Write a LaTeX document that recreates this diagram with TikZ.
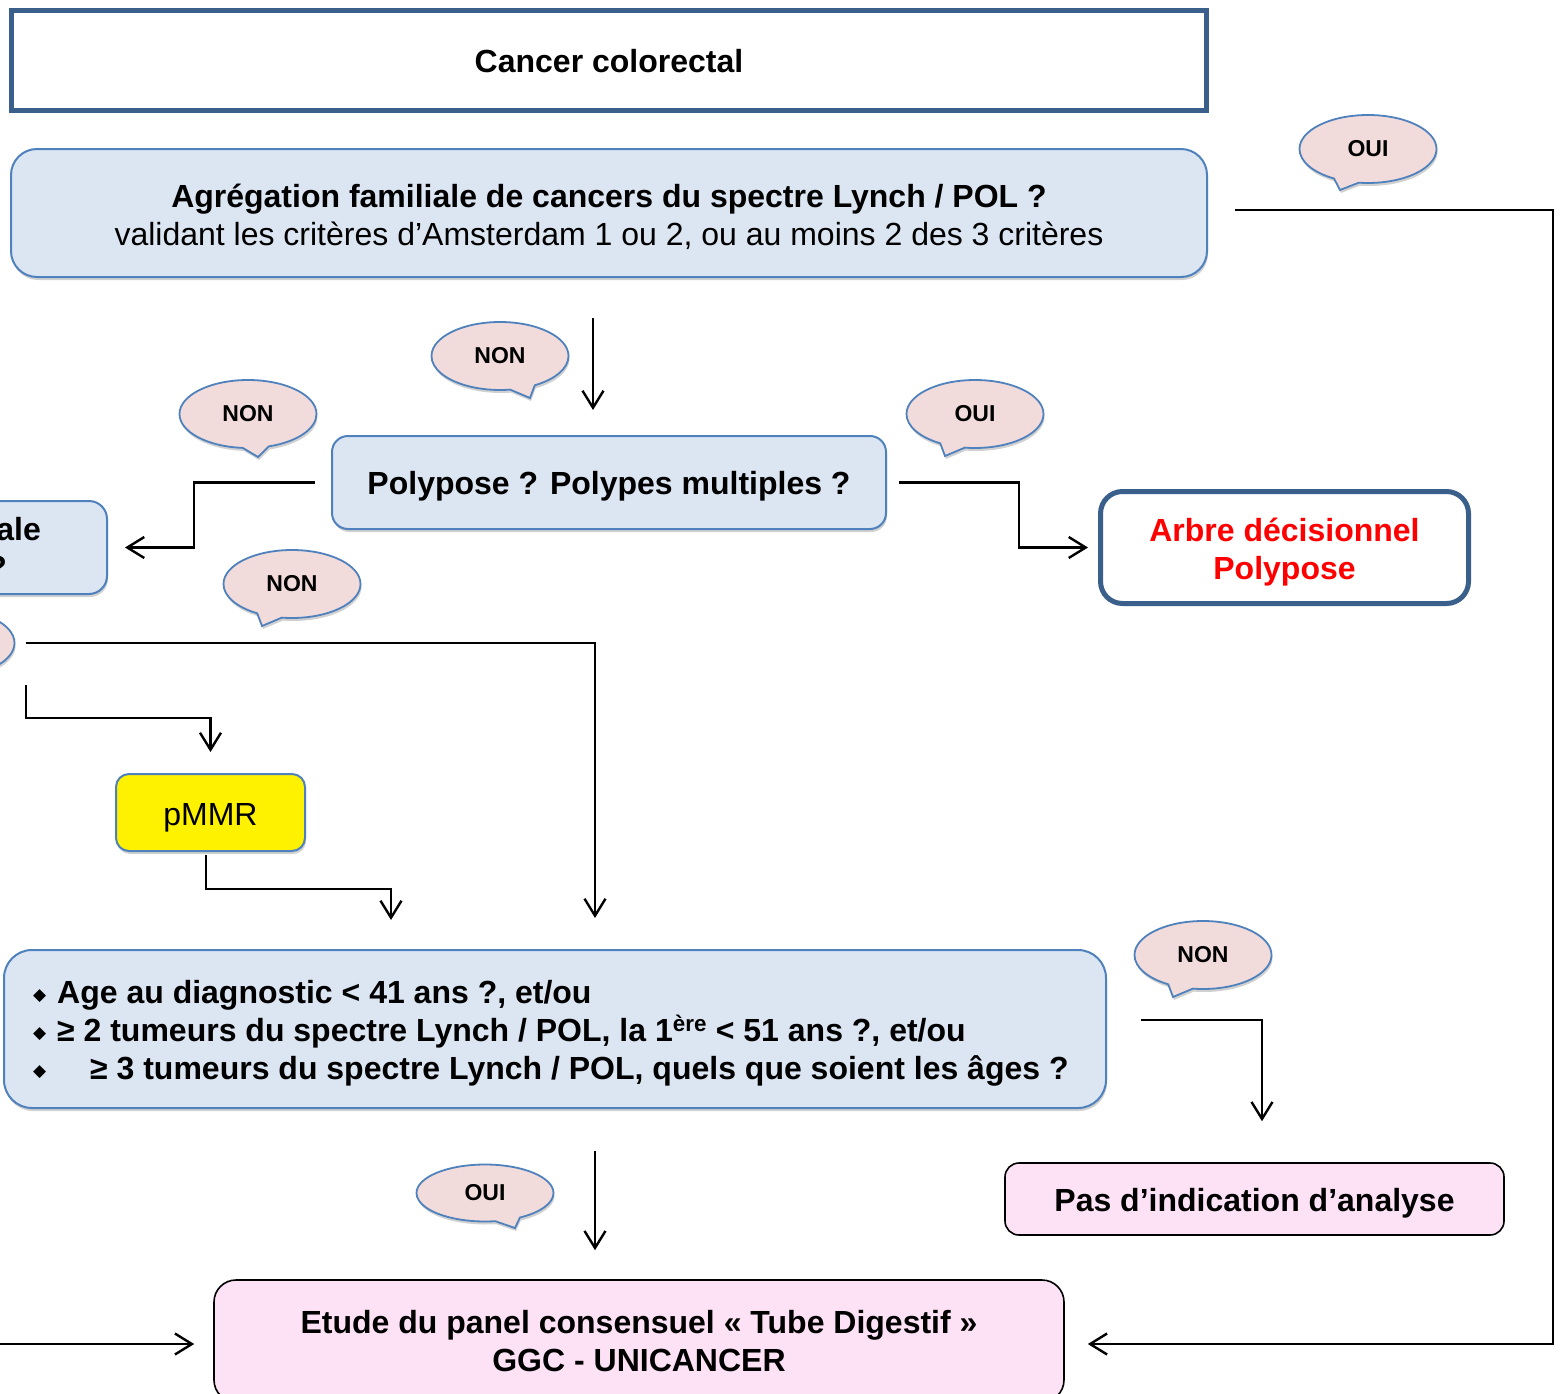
\documentclass[tikz,border=0pt]{standalone}
\usepackage{fontspec}
\setmainfont{Liberation Sans}
\newfontfamily\djv{DejaVu Sans}
\usetikzlibrary{arrows.meta,shapes.callouts,shapes.geometric,shadows}
\definecolor{qfill}{HTML}{DCE6F2}
\definecolor{qborder}{HTML}{4F81BD}
\definecolor{cfill}{HTML}{F2DCDB}
\definecolor{dkblue}{HTML}{3A5F8B}
\definecolor{pinkfill}{HTML}{FDE2F6}
\newcommand\fsbig{\fontsize{32}{38}\selectfont}
\newcommand\fscall{\fontsize{23}{27}\selectfont}
\newcommand\tstrut[1]{\rule{0pt}{#1pt}}
\newcommand\dbul{\makebox[24pt][l]{\raisebox{3pt}{\djv\fontsize{17}{17}\selectfont ◆}}}
\tikzset{
  shd/.style={drop shadow={shadow xshift=1pt,shadow yshift=-3pt,opacity=.18,fill=black}},
  qbox/.style={draw=qborder,fill=qfill,line width=2pt,inner sep=0pt,align=center,font=\fsbig,shd},
  dkbox/.style={draw=dkblue,fill=white,line width=5pt,inner sep=0pt,align=center,font=\fsbig\bfseries},
  pinkbox/.style={draw=black,fill=pinkfill,line width=1.6pt,inner sep=0pt,align=center,font=\fsbig\bfseries,rounded corners=14pt},
  bubble/.style={ellipse callout,draw=qborder,fill=cfill,line width=1.8pt,inner sep=0pt,
     minimum width=137pt,minimum height=68pt,font=\fscall\bfseries,callout pointer arc=22,shd},
  arr/.style={line width=2.4pt,-{Straight Barb[length=17pt,width=21pt]}},
  plain/.style={inner sep=0pt}
}
\begin{document}
\begin{tikzpicture}[x=1pt,y=-1pt]
\useasboundingbox (0,0) rectangle (1560,1394);

% boxes
\node[dkbox,rectangle,minimum width=1195pt,minimum height=100pt] (top) at (609,60.5) {\tstrut{25}Cancer colorectal};
\node[qbox,rounded corners=26pt,minimum width=1196pt,minimum height=128pt] (agr) at (609,213)
  {\tstrut{31}\textbf{Agrégation familiale de cancers du spectre Lynch / POL ?}\\validant les critères d’Amsterdam 1 ou 2, ou au moins 2 des 3 critères};
\node[qbox,rounded corners=16pt,minimum width=554pt,minimum height=93pt,font=\fsbig\bfseries] (poly) at (609,482.5)
  {\tstrut{31}Polypose ? Polypes multiples ?};
\node[dkbox,rounded corners=22pt,minimum width=368pt,minimum height=112pt,text=red] (arbre) at (1284.5,547.5)
  {\tstrut{32}Arbre décisionnel\\Polypose};
\node[qbox,rounded corners=18pt,minimum width=360pt,minimum height=93pt] (tum) at (-73,547.5) {};
\node[anchor=east,font=\fsbig\bfseries,plain] (tumA) at (41,529) {ale};
\node[anchor=east,font=\fsbig\bfseries,plain] (tumB) at (7,567) {?};
\node[qbox,rounded corners=13pt,minimum width=189pt,minimum height=77pt,fill=yellow] (pmmr) at (210.5,812.5) {\tstrut{33}pMMR};
\node[qbox,rounded corners=28pt,minimum width=1102pt,minimum height=158pt] (bul) at (555,1029) {};
\node[plain,anchor=base west,align=left,font=\fsbig\bfseries] (bultext) at (33,1079)
  {\dbul Age au diagnostic < 41 ans ?, et/ou\\
   \dbul ≥ 2 tumeurs du spectre Lynch / POL, la 1\textsuperscript{ère} < 51 ans ?, et/ou\\
   \dbul\hspace{33pt}≥ 3 tumeurs du spectre Lynch / POL, quels que soient les âges ?};
\node[pinkbox,minimum width=499pt,minimum height=72pt] (pas) at (1254.5,1199) {\tstrut{31}Pas d’indication d’analyse};
\node[pinkbox,rounded corners=22pt,minimum width=850pt,minimum height=122pt] (etude) at (639,1341)
  {Etude du panel consensuel « Tube Digestif »\\GGC - UNICANCER};

% bubbles
\node[bubble,callout absolute pointer={(1340,190)}] (oui1) at (1368,149) {OUI};
\node[bubble,callout absolute pointer={(530,398)}] (non1) at (500,356) {NON};
\node[bubble,callout absolute pointer={(258,457)}] (non2) at (248,414) {NON};
\node[bubble,callout absolute pointer={(945,456)}] (oui2) at (975,414) {OUI};
\node[bubble,callout absolute pointer={(262,626)}] (non3) at (292,584) {NON};
\node[bubble,callout absolute pointer={(-90,690)}] (lc) at (-54,643) {};
\node[bubble,callout absolute pointer={(1173,997)}] (non4) at (1203,955) {NON};
\node[bubble,minimum height=57pt,callout absolute pointer={(515,1228)}] (oui3) at (485,1193) {OUI};

% free ends
\coordinate (c1) at (26,643);
\coordinate (c2) at (26,685);
\coordinate (c3) at (-10,1344);

% connectors
\draw[arr,shorten <=40pt,shorten >=25pt] ([xshift=-16pt]agr.south) -- ([xshift=-16pt]poly.north);
\draw[arr,shorten <=16pt,shorten >=17pt] (poly.west) -- ++(-137,0) |- (tum.east);
\draw[arr,shorten <=12pt,shorten >=10pt] (poly.east) -- ++(132,0) |- (arbre.west);
\draw[arr,shorten <=27pt,shorten >=23pt] ([yshift=3pt]agr.east) -- ++(345,0) |- ([yshift=-3pt]etude.east);
\draw[arr,shorten >=31pt] (c1) -| ([xshift=40pt]bul.north);
\draw[arr,shorten >=21pt] (c2) -- ++(0,33) -| (pmmr.north);
\draw[arr,shorten <=3pt,shorten >=29pt] ([xshift=-4.5pt]pmmr.south) -- ++(0,37) -| ([xshift=-164pt]bul.north);
\draw[arr,shorten <=34pt,shorten >=41pt] ([yshift=9pt]bul.east) -| ([xshift=7.5pt]pas.north);
\draw[arr,shorten <=42pt,shorten >=29pt] ([xshift=40pt]bul.south) -- ([xshift=-44pt]etude.north);
\draw[arr,shorten >=19pt] (c3) -- ([yshift=-3pt]etude.west);
\end{tikzpicture}
\end{document}
